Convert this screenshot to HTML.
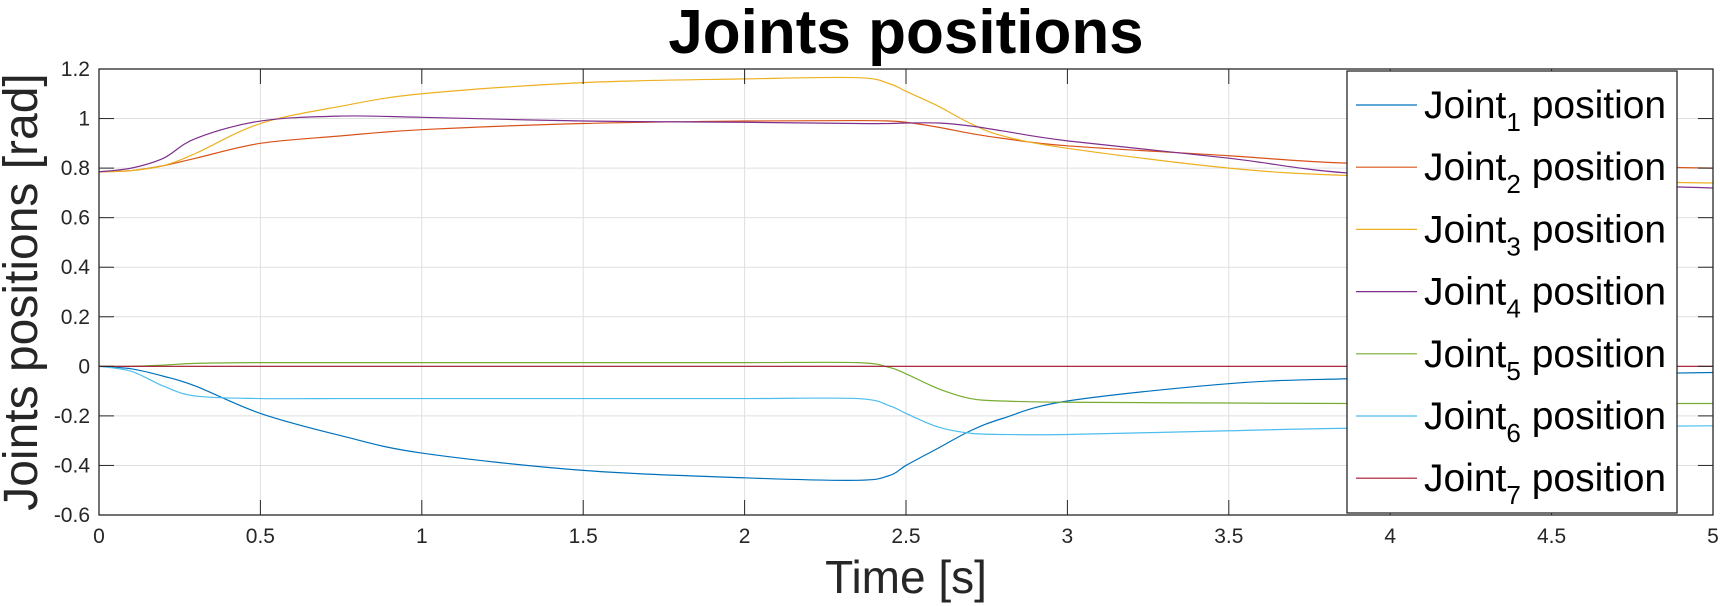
<!DOCTYPE html>
<html><head><meta charset="utf-8">
<style>
html,body{margin:0;padding:0;background:#fff;}
svg{display:block;font-family:"Liberation Sans",Arial,sans-serif;}
</style></head>
<body>
<svg id="chart" width="1720" height="606" viewBox="0 0 1720 606">
  <text x="906" y="53" text-anchor="middle" font-size="62" font-weight="bold" fill="#000">Joints positions</text>
  <text x="906" y="593" text-anchor="middle" font-size="46" fill="#262626">Time [s]</text>
  <text transform="translate(37,292) rotate(-90)" text-anchor="middle" font-size="48" fill="#262626">Joints positions [rad]</text>
  <g id="grid"></g>
  <g id="lines"></g>
  <g id="axes"></g>
  <g id="legend"></g>
</svg>
<script>
const times = [0,0.1,0.2,0.3,0.5,0.75,1,1.5,2,2.35,2.45,2.5,2.6,2.7,2.8,3,3.5,3.87,4.5,5];
const joint1 = [0,-0.01,-0.04,-0.08,-0.19,-0.28,-0.35,-0.42,-0.45,-0.46,-0.44,-0.40,-0.33,-0.26,-0.21,-0.14,-0.07,-0.05,-0.035,-0.025];
const joint2 = [0.785,0.79,0.81,0.84,0.9,0.93,0.955,0.98,0.99,0.992,0.99,0.985,0.965,0.94,0.92,0.89,0.85,0.82,0.81,0.80];
const joint3 = [0.785,0.79,0.81,0.86,0.98,1.05,1.1,1.145,1.16,1.165,1.14,1.11,1.05,0.98,0.93,0.88,0.8,0.77,0.75,0.74];
const joint4 = [0.785,0.8,0.84,0.92,0.99,1.01,1.005,0.99,0.985,0.98,0.98,0.982,0.982,0.97,0.95,0.91,0.84,0.78,0.74,0.72];
const joint5 = [0,0,0.005,0.012,0.015,0.015,0.015,0.015,0.015,0.015,-0.005,-0.03,-0.09,-0.13,-0.14,-0.145,-0.148,-0.15,-0.15,-0.15];
const joint6 = [0,-0.02,-0.08,-0.12,-0.13,-0.13,-0.13,-0.13,-0.13,-0.13,-0.16,-0.19,-0.245,-0.27,-0.275,-0.275,-0.26,-0.25,-0.245,-0.24];
const joint7 = [0,0,0,0,0,0,0,0,0,0,0,0,0,0,0,0,0,0,0,0];
const seriesNames = ["1","2","3","4","5","6","7"];
const xTicks = [0,0.5,1,1.5,2,2.5,3,3.5,4,4.5,5];
const xTickLabels = ["0","0.5","1","1.5","2","2.5","3","3.5","4","4.5","5"];
const yTicks = [-0.6,-0.4,-0.2,0,0.2,0.4,0.6,0.8,1,1.2];
const yTickLabels = ["-0.6","-0.4","-0.2","0","0.2","0.4","0.6","0.8","1","1.2"];

const NS="http://www.w3.org/2000/svg";
const L=99,R=1713,T=69,B=515, X0=0,X1=5,Y0=-0.6,Y1=1.2;
const xs=v=>L+(v-X0)/(X1-X0)*(R-L);
const ys=v=>B-(v-Y0)/(Y1-Y0)*(B-T);
function mk(tag,attrs,parent){const e=document.createElementNS(NS,tag);for(const k in attrs)e.setAttribute(k,attrs[k]);parent.appendChild(e);return e;}
const grid=document.getElementById('grid'),axes=document.getElementById('axes'),lines=document.getElementById('lines'),legend=document.getElementById('legend');

xTicks.forEach((t,i)=>{
  const x=xs(t);
  const g=mk('line',{x1:x,x2:x,y1:T,y2:B,stroke:'#dfdfdf','stroke-width':1},grid);
  
  
  mk('line',{x1:x,x2:x,y1:B,y2:B-15,stroke:'#262626','stroke-width':1},axes);
  mk('line',{x1:x,x2:x,y1:T,y2:T+15,stroke:'#262626','stroke-width':1},axes);
  const tx=mk('text',{x:x,y:543,'text-anchor':'middle','font-size':21,fill:'#262626'},axes);
  tx.textContent=xTickLabels[i];
  
  
});
yTicks.forEach((t,i)=>{
  const y=ys(t);
  const g=mk('line',{x1:L,x2:R,y1:y,y2:y,stroke:'#dfdfdf','stroke-width':1},grid);
  
  
  mk('line',{x1:L,x2:L+15,y1:y,y2:y,stroke:'#262626','stroke-width':1},axes);
  mk('line',{x1:R,x2:R-15,y1:y,y2:y,stroke:'#262626','stroke-width':1},axes);
  const tx=mk('text',{x:90,y:y+7,'text-anchor':'end','font-size':21,fill:'#262626'},axes);
  tx.textContent=yTickLabels[i];
  
  
});
const frame=mk('rect',{x:L,y:T,width:R-L,height:B-T,fill:'none',stroke:'#262626','stroke-width':1.3},axes);



const data=[joint1,joint2,joint3,joint4,joint5,joint6,joint7];
const colors=['#0072BD','#D95319','#EDB120','#7E2F8E','#77AC30','#4DBEEE','#A2142F'];
function pathFor(vals){
  const p=times.map((t,i)=>[xs(t),ys(vals[i])]);
  let d='M'+p[0][0]+','+p[0][1];
  for(let i=0;i<p.length-1;i++){
    const p0=p[Math.max(0,i-1)],p1=p[i],p2=p[i+1],p3=p[Math.min(p.length-1,i+2)];
    const c1x=p1[0]+(p2[0]-p0[0])/6,c1y=p1[1]+(p2[1]-p0[1])/6;
    const c2x=p2[0]-(p3[0]-p1[0])/6,c2y=p2[1]-(p3[1]-p1[1])/6;
    d+=' C'+c1x+','+c1y+' '+c2x+','+c2y+' '+p2[0]+','+p2[1];
  }
  return d;
}
data.forEach((vals,k)=>{
  const pth=mk('path',{d:pathFor(vals),fill:'none',stroke:colors[k],'stroke-width':1.2},lines);
  
  
});

const box=mk('rect',{x:1347,y:71,width:330,height:442,fill:'#fff',stroke:'#262626','stroke-width':1.3},legend);


seriesNames.forEach((n,k)=>{
  const cy=105+k*62.2;
  const g=mk('g',{},legend);
  
  
  mk('line',{x1:1356,x2:1417,y1:cy,y2:cy,stroke:colors[k],'stroke-width':1.2},g);
  const tx=mk('text',{x:1424,y:cy+13,'font-size':39,fill:'#000'},g);
  tx.appendChild(document.createTextNode('Joint'));
  const sub=mk('tspan',{'font-size':26,dy:13},tx);
  sub.textContent=n;
  const rest=mk('tspan',{dy:-13},tx);
  rest.textContent=' position';
});
</script>
</body></html>
